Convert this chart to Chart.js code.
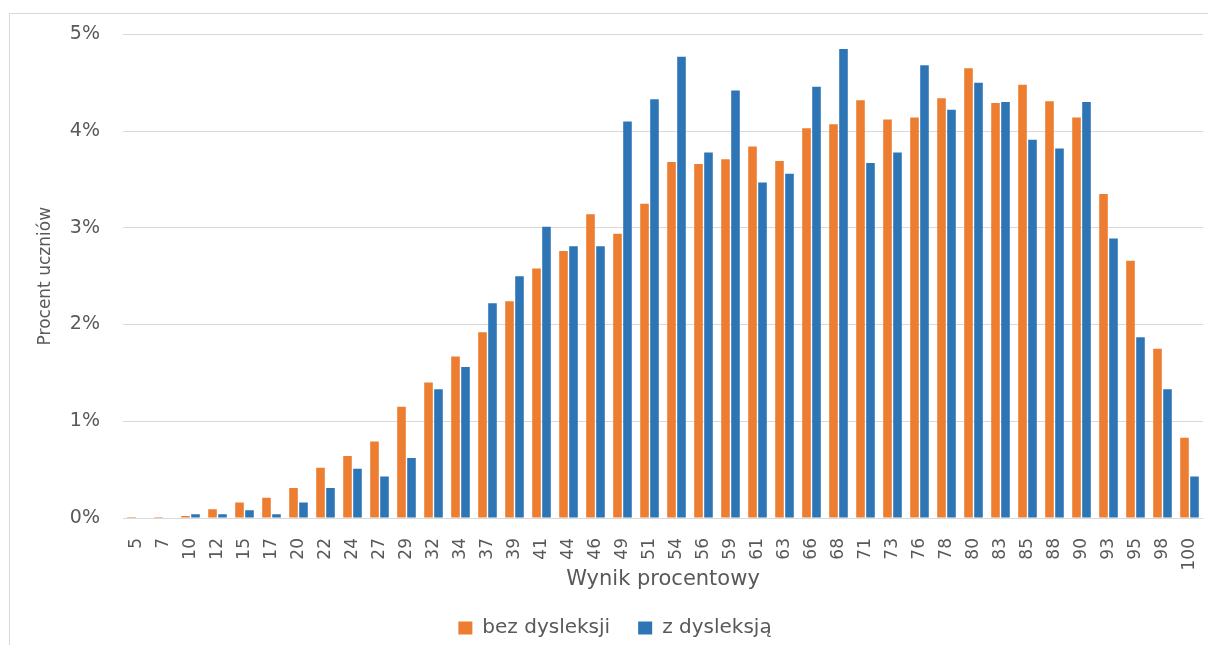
<!DOCTYPE html>
<html>
<head>
<meta charset="utf-8">
<script src="https://cdn.jsdelivr.net/npm/chart.js@4/dist/chart.umd.min.js"></script>
<style>
  html, body { margin: 0; padding: 0; background: #fff; overflow: hidden; }
  #frame { position: absolute; left: 9px; top: 13px; width: 1300px; height: 700px;
           border-top: 1px solid #d9d9d9; border-left: 1px solid #d9d9d9; }
  #wrap { position: absolute; left: 0; top: 0; width: 1208px; height: 648px; }
</style>
</head>
<body>
<div id="frame"></div>
<div id="wrap"><canvas id="chart" width="1208" height="648"></canvas></div>
<script>
const categories = ['5','7','10','12','15','17','20','22','24','27','29','32','34','37','39','41','44','46','49','51',
                    '54','56','59','61','63','66','68','71','73','76','78','80','83','85','88','90','93','95','98','100'];
const bezDysleksji = [0.01, 0.01, 0.02, 0.09, 0.16, 0.21, 0.31, 0.52, 0.64, 0.79, 1.15, 1.40, 1.67, 1.92, 2.24, 2.58, 2.76, 3.14, 2.94, 3.25,
                      3.68, 3.66, 3.71, 3.84, 3.69, 4.03, 4.07, 4.32, 4.12, 4.14, 4.34, 4.65, 4.29, 4.48, 4.31, 4.14, 3.35, 2.66, 1.75, 0.83];
const zDysleksja = [0, 0, 0.04, 0.04, 0.08, 0.04, 0.16, 0.31, 0.51, 0.43, 0.62, 1.33, 1.56, 2.22, 2.50, 3.01, 2.81, 2.81, 4.10, 4.33,
                    4.77, 3.78, 4.42, 3.47, 3.56, 4.46, 4.85, 3.67, 3.78, 4.68, 4.22, 4.50, 4.30, 3.91, 3.82, 4.30, 2.89, 1.87, 1.33, 0.43];
const yTicks = [0, 1, 2, 3, 4, 5];

const textColor = '#595959';
const fontFamily = '"DejaVu Sans", sans-serif';

new Chart(document.getElementById('chart').getContext('2d'), {
    type: 'bar',
    data: {
        labels: categories,
        datasets: [{
            label: 'bez dysleksji',
            data: bezDysleksji,
            backgroundColor: '#ED7D31',
            categoryPercentage: 0.74,
            barPercentage: 0.86
        }, {
            label: 'z dysleksją',
            data: zDysleksja,
            backgroundColor: '#2E75B6',
            categoryPercentage: 0.74,
            barPercentage: 0.86
        }]
    },
    options: {
        responsive: false,
        animation: false,
        layout: { padding: { left: 27, right: 5, top: 33, bottom: 0 } },
        plugins: {
            legend: {
                position: 'bottom',
                labels: {
                    color: textColor,
                    font: { family: fontFamily, size: 20 },
                    boxWidth: 14,
                    boxHeight: 13,
                    padding: 28
                }
            },
            tooltip: { enabled: false }
        },
        scales: {
            x: {
                grid: { display: false },
                border: { display: false },
                ticks: {
                    color: textColor,
                    font: { family: fontFamily, size: 17 },
                    minRotation: 90,
                    maxRotation: 90,
                    autoSkip: false,
                    padding: 12
                },
                title: {
                    display: true,
                    text: 'Wynik procentowy',
                    color: textColor,
                    font: { family: fontFamily, size: 21 },
                    padding: { top: 0, bottom: -2 }
                },
                afterFit: (axis) => {
                    axis.height = 72;
                    axis.paddingLeft = 0;
                    axis.paddingRight = 0;
                }
            },
            y: {
                min: 0,
                max: 5,
                afterBuildTicks: (axis) => { axis.ticks = yTicks.map(v => ({ value: v })); },
                grid: { color: '#d9d9d9', lineWidth: 1, drawTicks: false },
                border: { display: false },
                ticks: {
                    color: textColor,
                    font: { family: fontFamily, size: 19 },
                    padding: 23,
                    callback: (v) => v + '%'
                },
                title: {
                    display: true,
                    text: 'Procent uczniów',
                    color: textColor,
                    font: { family: fontFamily, size: 17 },
                    padding: { top: 8, bottom: 0 }
                },
                afterFit: (axis) => { axis.width = 96; }
            }
        }
    }
});
</script>
</body>
</html>
